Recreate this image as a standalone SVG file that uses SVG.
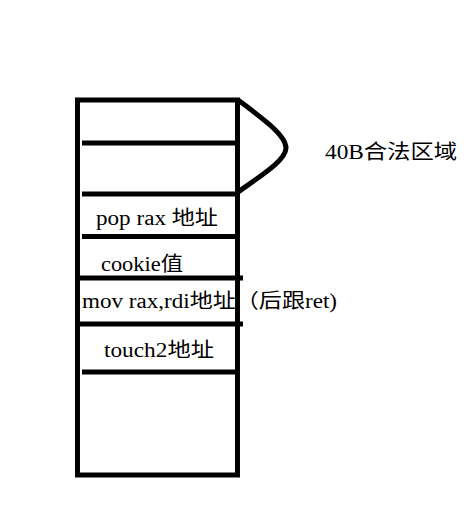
<svg xmlns="http://www.w3.org/2000/svg" width="469" height="518" viewBox="0 0 469 518">
<style>
.s{stroke:#000;stroke-width:5;fill:none;stroke-linecap:butt}
.t{font-family:"Liberation Serif","Noto Sans CJK SC",serif;font-size:20px;fill:#000}
</style>
<rect width="469" height="518" fill="#fff"/>
<g id="stack">
<rect class="s" x="77.5" y="100" width="160" height="375"/>
</g>
<g id="connectors">
<path class="s" d="M238,100 C262,118 286,135 286,148 C286,160 262,175 238,192"/>
<line class="s" x1="82" y1="143" x2="238" y2="143"/>
<line class="s" x1="82" y1="194" x2="238" y2="194"/>
<line class="s" x1="82" y1="236.5" x2="238" y2="236.5"/>
<line class="s" x1="80" y1="278" x2="243" y2="278"/>
<line class="s" x1="80" y1="324" x2="243" y2="324"/>
<line class="s" x1="82" y1="372" x2="240" y2="372"/>
</g>
<g id="n1"><text class="t" x="96" y="225" textLength="122" lengthAdjust="spacingAndGlyphs">pop rax 地址</text></g>
<g id="n2"><text class="t" x="101" y="271" textLength="82" lengthAdjust="spacingAndGlyphs">cookie值</text></g>
<g id="n3"><text class="t" x="82" y="308" textLength="255" lengthAdjust="spacingAndGlyphs">mov rax,rdi地址（后跟ret)</text></g>
<g id="n4"><text class="t" x="104" y="357" textLength="110" lengthAdjust="spacingAndGlyphs">touch2地址</text></g>
<g id="label"><text class="t" x="325" y="159" textLength="132" lengthAdjust="spacingAndGlyphs">40B合法区域</text></g>
</svg>
